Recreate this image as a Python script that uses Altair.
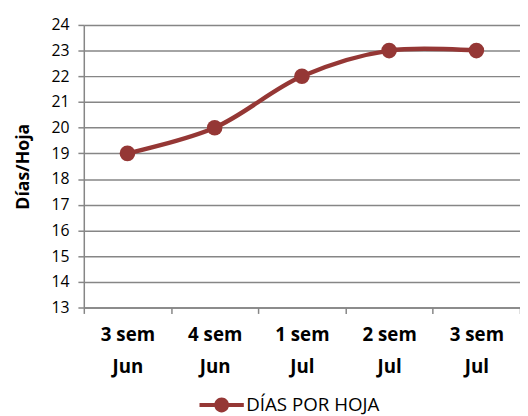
import altair as alt
import pandas as pd

categories = ["3 sem\nJun", "4 sem\nJun", "1 sem\nJul", "2 sem\nJul", "3 sem\nJul"]
values = [19, 20, 22, 23, 23]
series = "DÍAS POR HOJA"

df = pd.DataFrame({"cat": categories, "val": values, "serie": [series] * len(values)})

color = "#953735"
font = "Open Sans"

sym = ("M-1.5,-0.14 H1.5 V0.14 H-1.5 Z "
       "M-0.5,0 A0.5,0.5 0 1,1 0.5,0 A0.5,0.5 0 1,1 -0.5,0 Z")

x = alt.X("cat:N", sort=categories, title=None,
          scale=alt.Scale(paddingInner=0, paddingOuter=0),
          axis=alt.Axis(labelExpr="split(datum.label, '\\n')", labelAngle=0,
                        labelFont=font, labelFontSize=19, labelFontWeight="bold",
                        labelColor="#000000", labelLineHeight=33, labelPadding=12,
                        tickBand="extent", tickSize=6, tickColor="#868686", tickWidth=1.5,
                        domainColor="#868686", domainWidth=1.5, grid=False))
y = alt.Y("val:Q", title="Días/Hoja",
          scale=alt.Scale(domain=[13, 24], nice=False, zero=False),
          axis=alt.Axis(values=list(range(13, 25)), labelFont=font, labelFontSize=16,
                        labelColor="#000000", labelPadding=9,
                        tickSize=6, tickColor="#868686", tickWidth=1.5,
                        domainColor="#868686", domainWidth=1.5,
                        gridColor="#868686", gridWidth=1.5,
                        titleFont=font, titleFontSize=18, titleFontWeight="bold",
                        titleColor="#000000", titlePadding=19))

col = alt.Color("serie:N", scale=alt.Scale(range=[color]), title=None,
                legend=alt.Legend(orient="none", legendX=125, legendY=371,
                                  symbolType=sym, symbolSize=900, symbolFillColor=color,
                                  symbolStrokeWidth=0, symbolOpacity=1,
                                  labelFont=font, labelFontSize=19, labelColor="#000000",
                                  labelOffset=10, padding=0))

line = alt.Chart(df).mark_line(strokeWidth=4.5, interpolate="catmull-rom").encode(
    x=x, y=y, color=col)
pts = alt.Chart(df).mark_point(filled=True, size=250, opacity=1).encode(
    x=x, y=y, color=alt.Color("serie:N", scale=alt.Scale(range=[color]), legend=None))

chart = (line + pts).properties(
    width=443, height=287,
    autosize=alt.AutoSizeParams(type="none"),
    padding={"left": 77, "top": 14, "right": 0, "bottom": 108},
).configure_view(stroke=None).configure(background="#ffffff")

chart.save("out.html", embed_options={"renderer": "svg", "actions": False})
